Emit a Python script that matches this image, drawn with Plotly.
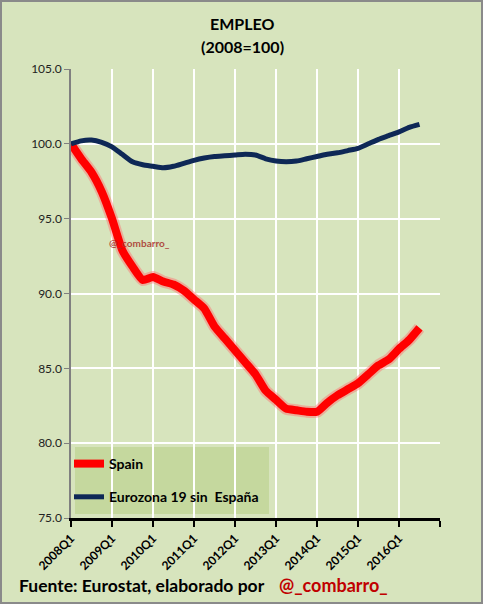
import plotly.graph_objects as go

# ---- data ----
quarters_idx = list(range(35))  # 2008Q1 .. 2016Q3
spain = [100.0, 99.0, 98.1, 96.8, 95.0, 92.9, 91.8, 90.9, 91.1, 90.8,
         90.6, 90.2, 89.6, 89.0, 87.8, 87.0, 86.2, 85.4, 84.6, 83.5,
         82.9, 82.3, 82.2, 82.1, 82.1, 82.7, 83.2, 83.6, 84.0, 84.6,
         85.2, 85.6, 86.3, 86.9, 87.7]
eurozona = [100.0, 100.2, 100.25, 100.1, 99.8, 99.3, 98.8, 98.6, 98.5, 98.4,
            98.5, 98.7, 98.9, 99.05, 99.15, 99.2, 99.25, 99.3, 99.25, 99.0,
            98.85, 98.8, 98.85, 99.0, 99.15, 99.3, 99.4, 99.55, 99.7, 100.0,
            100.3, 100.55, 100.8, 101.1, 101.3]
tick_pos = [0, 4, 8, 12, 16, 20, 24, 28, 32, 36]
tick_labels = ["2008Q1", "2009Q1", "2010Q1", "2011Q1", "2012Q1", "2013Q1",
               "2014Q1", "2015Q1", "2016Q1", ""]
y_ticks = [75, 80, 85, 90, 95, 100, 105]

W, H = 483, 604
L, R, T, B = 71, 440, 69, 518  # plot area in px
PW, PH = R - L, B - T

def px(x):
    return (x - L) / PW

def py(y):
    return (B - y) / PH

BG = "#D7E4BD"

fig = go.Figure()
# glow under Spain line
fig.add_trace(go.Scatter(x=quarters_idx, y=spain, mode="lines",
                         line=dict(color="rgba(255,110,110,0.45)", width=12, shape="spline", smoothing=0.5),
                         showlegend=False, hoverinfo="skip"))
fig.add_trace(go.Scatter(x=quarters_idx, y=spain, mode="lines", name="<b>Spain</b>",
                         legendgroup="a",
                         line=dict(color="#FF0000", width=8, shape="spline", smoothing=0.5)))
fig.add_trace(go.Scatter(x=quarters_idx, y=eurozona, mode="lines", name="<b>Eurozona 19 sin  España</b>",
                         legendgroup="b",
                         line=dict(color="#0E2856", width=5, shape="spline", smoothing=0.6)))

fig.update_layout(
    width=W, height=H,
    margin=dict(l=L, r=W - R, t=T, b=H - B, pad=0),
    paper_bgcolor=BG, plot_bgcolor=BG,
    font=dict(family="Lato, 'Open Sans', sans-serif", color="#000000"),
    showlegend=True,
    legend=dict(x=px(69), y=py(448), xanchor="left", yanchor="top",
                bgcolor="rgba(0,0,0,0)", borderwidth=0,
                font=dict(size=14, color="#000000", family="Lato, sans-serif"),
                tracegroupgap=12, itemwidth=30),
    xaxis=dict(range=[0, 36], tickmode="array", tickvals=tick_pos,
               ticktext=[f"<b>{t}</b>" if t else "" for t in tick_labels],
               tickangle=-45, showgrid=True, gridcolor="#FFFFFF", gridwidth=1.5,
               showline=True, linecolor="#000000", linewidth=2.5,
               ticks="outside", ticklen=6, tickwidth=2, tickcolor="#000000",
               tickfont=dict(size=12, color="#000000"), zeroline=False, fixedrange=True),
    yaxis=dict(range=[75, 105], tickmode="array", tickvals=y_ticks,
               ticktext=[f"{v:.1f}" for v in y_ticks],
               showgrid=True, gridcolor="#FFFFFF", gridwidth=1.5,
               showline=True, linecolor="#808080", linewidth=1.5,
               ticks="outside", ticklen=5, tickwidth=1, tickcolor="#808080",
               tickfont=dict(size=12, color="#222222"), zeroline=False, fixedrange=True),
)

# title (two lines)
fig.add_annotation(text="<b>EMPLEO</b>", xref="paper", yref="paper",
                   x=px(242), y=py(23), xanchor="center", yanchor="middle", showarrow=False,
                   font=dict(size=16, color="#000000"))
fig.add_annotation(text="<b>(2008=100)</b>", xref="paper", yref="paper",
                   x=px(242), y=py(46), xanchor="center", yanchor="middle", showarrow=False,
                   font=dict(size=16, color="#000000"))

# legend background box (covers gridlines, below traces)
fig.add_shape(type="rect", xref="paper", yref="paper",
              x0=px(75), x1=px(269), y0=py(514), y1=py(447),
              fillcolor="#C5D89E", line=dict(width=0), layer="between")

# figure border
fig.add_shape(type="rect", xref="paper", yref="paper",
              x0=px(1), x1=px(W - 1), y0=py(H - 1), y1=py(1),
              line=dict(color="#8A8A8A", width=2), fillcolor="rgba(0,0,0,0)", layer="above")

# watermark
fig.add_annotation(text="<b>@_combarro_</b>", xref="paper", yref="paper",
                   x=px(139), y=py(243), xanchor="center", yanchor="middle", showarrow=False,
                   font=dict(size=10, color="#A8322C"), opacity=0.85)

# footer
fig.add_annotation(text="<b>Fuente: Eurostat, elaborado por</b>", xref="paper", yref="paper",
                   x=px(17), y=py(585), xanchor="left", yanchor="middle", showarrow=False,
                   font=dict(size=17.5, color="#000000"))
fig.add_annotation(text="<b>@_combarro_</b>", xref="paper", yref="paper",
                   x=px(277), y=py(585), xanchor="left", yanchor="middle", showarrow=False,
                   font=dict(size=18, color="#C00000"))

fig.write_html("out.html")
